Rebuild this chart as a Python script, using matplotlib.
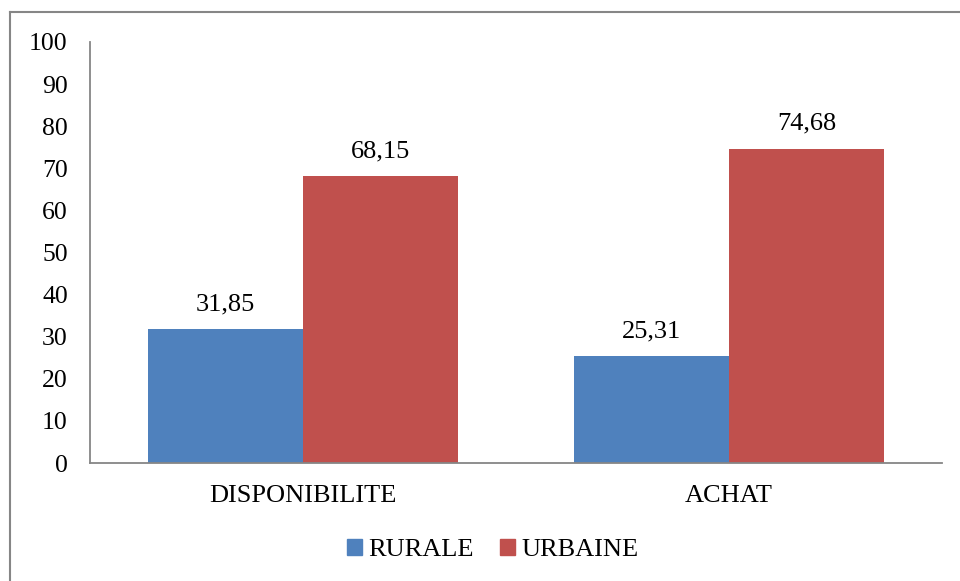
import numpy as np
import matplotlib
matplotlib.use("Agg")
from matplotlib import pyplot as plt
from matplotlib.patches import Patch
from matplotlib.lines import Line2D

DPI = 100

categories = ["DISPONIBILITE", "ACHAT"]
rurale = [31.85, 25.31]
urbaine = [68.15, 74.68]
series_names = ["RURALE", "URBAINE"]
yticks = list(range(0, 101, 10))

BLUE = "#4F81BD"
RED = "#C0504D"
GRID = "#868686"
FS = 19

plt.rcParams["font.family"] = ["Liberation Serif", "DejaVu Serif"]

fig = plt.figure(figsize=(960 / DPI, 581 / DPI), dpi=DPI, facecolor="white")
ax = fig.add_axes([90 / 960, 1 - 463 / 581, (942 - 90) / 960, (463 - 42) / 581])

x = np.arange(len(categories))
w = 0.364
b1 = ax.bar(x - w / 2, rurale, w, color=BLUE, edgecolor="none", zorder=2)
b2 = ax.bar(x + w / 2, urbaine, w, color=RED, edgecolor="none", zorder=2)

for bars, vals in ((b1, rurale), (b2, urbaine)):
    for rect, v in zip(bars, vals):
        ax.annotate(
            f"{v:.2f}".replace(".", ","),
            (rect.get_x() + rect.get_width() / 2, v),
            xytext=(0, 10),
            textcoords="offset points",
            ha="center",
            va="bottom",
            fontsize=FS,
        )

ax.set_xlim(-0.5, 1.5)
ax.set_ylim(0, 100)
ax.set_xticks(x)
ax.set_xticklabels(categories)
ax.set_yticks(yticks)
ax.tick_params(axis="both", length=0)
ax.tick_params(axis="y", pad=16, labelsize=18.5)
ax.tick_params(axis="x", pad=15.5, labelsize=FS)

for side in ("top", "right"):
    ax.spines[side].set_visible(False)
for side in ("left", "bottom"):
    ax.spines[side].set_color(GRID)
    ax.spines[side].set_linewidth(1.3)

handles = [Patch(color=BLUE), Patch(color=RED)]
fig.legend(
    handles,
    series_names,
    loc="center",
    bbox_to_anchor=(493 / 960, 1 - 550 / 581),
    ncol=2,
    frameon=False,
    fontsize=FS,
    handlelength=0.55,
    handleheight=0.55,
    handletextpad=0.25,
    columnspacing=1.0,
)

# chart border (only left and top visible in the crop)
fig.add_artist(Line2D([9.5 / 960, 9.5 / 960], [0, 1 - 11.5 / 581],
                      transform=fig.transFigure, color=GRID, lw=1.5))
fig.add_artist(Line2D([9.5 / 960, 1], [1 - 11.5 / 581, 1 - 11.5 / 581],
                      transform=fig.transFigure, color=GRID, lw=1.5))

fig.savefig("out.png", dpi=DPI)
